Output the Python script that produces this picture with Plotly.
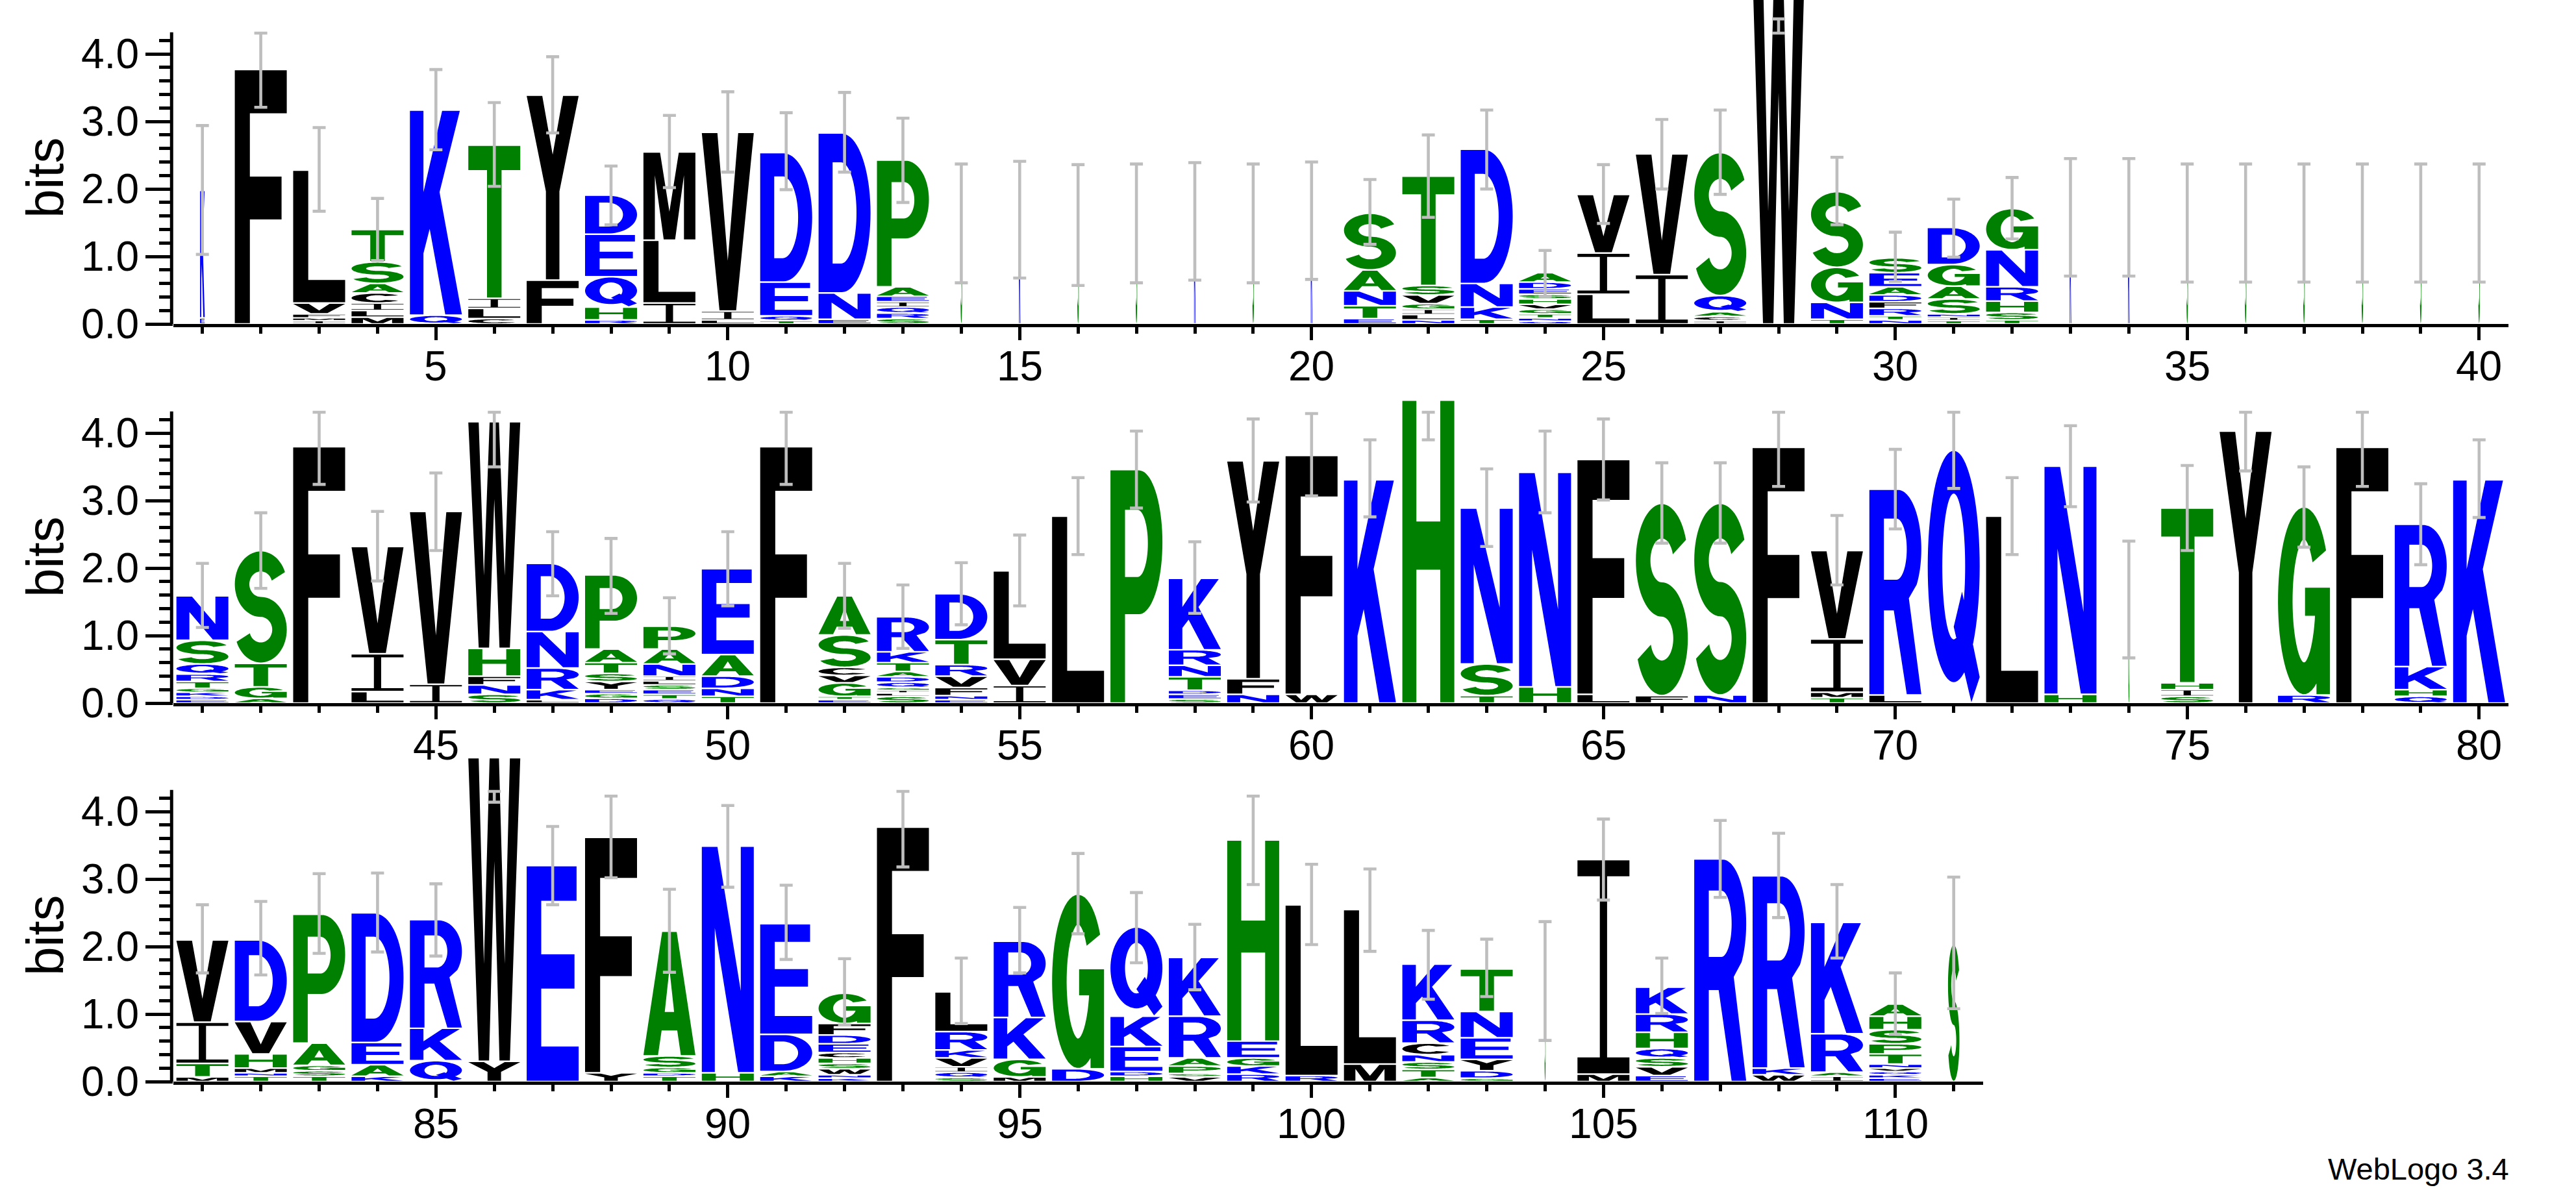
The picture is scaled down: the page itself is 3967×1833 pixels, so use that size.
import math
import plotly.graph_objects as go

# ---------------------------------------------------------------- data
# letters of each stack, listed bottom -> top (positions 1..111)
stack_letters = [
    "EK", "F", "IMFVL", "MLICAST", "QK", "CLIT", "FY", "RHQED", "ILM", "LIV",
    "TQED", "END", "SRQIEAP", "S", "K", "S", "S", "K", "S", "K",
    "ETNAS", "NLIGVST", "TKND", "QNTGVHSEDA", "LIV", "IV", "ICAQS", "W", "TNGS", "NTRFDAES",
    "TINSAGD", "TSHRNG", "K", "K", "S", "S", "S", "S", "S", "S",
    "EDKGTRQSN", "AGTS", "F", "LIV", "IV", "SNFHW", "LKRND", "DGEYSTAP", "QTESLINAP", "TNDAE",
    "F", "ETGVCSA", "SLIGQDATKR", "ENFVRTD", "IVL", "L", "P", "SEDTNRK", "NFY", "WF",
    "K", "H", "TSN", "HN", "LF", "FS", "NS", "F", "TMIV", "LR",
    "Q", "L", "HN", "G", "SIHT", "Y", "RG", "F", "QHKR", "K",
    "MTIV", "TNMHVD", "TSGAP", "KAED", "QKR", "YW", "E", "YF", "TDGSA", "HN",
    "KADE", "KNWSHCEDFG", "F", "SQIVKRL", "MGKR", "DG", "HDEKQ", "VSPARK", "RKGEH", "RL",
    "ML", "ATSNCRK", "GDYENT", "S", "MI", "EVSQHRK", "R", "WKR", "IARK", "EKQVNTPSHA", "S",
]

# letter heights in bits, same order as the letters
stack_heights = [
    [0.09, 1.89], [3.77], [0.05, 0.04, 0.06, 0.16, 1.97], [0.10, 0.10, 0.11, 0.15, 0.14, 0.32, 0.48],
    [0.13, 3.04], [0.08, 0.15, 0.15, 2.27], [0.65, 2.74], [0.06, 0.19, 0.45, 0.63, 0.58],
    [0.31, 0.93, 1.31], [0.06, 0.13, 2.65],
    [0.05, 0.07, 0.50, 1.92], [0.07, 0.39, 2.37], [0.08, 0.08, 0.09, 0.08, 0.08, 0.14, 1.88],
    [1.49], [1.54], [1.46], [1.49], [1.51], [1.49], [1.52],
    [0.08, 0.19, 0.22, 0.31, 0.84], [0.06, 0.08, 0.08, 0.08, 0.13, 0.14, 1.62], [0.07, 0.18, 0.35, 1.99],
    [0.04, 0.05, 0.06, 0.07, 0.07, 0.08, 0.07, 0.08, 0.10, 0.14], [0.44, 0.61, 0.87], [0.73, 1.79],
    [0.05, 0.06, 0.07, 0.24, 2.12], [5.20], [0.07, 0.25, 0.52, 1.12],
    [0.06, 0.06, 0.11, 0.10, 0.10, 0.12, 0.21, 0.22],
    [0.05, 0.05, 0.05, 0.22, 0.19, 0.32, 0.55], [0.06, 0.11, 0.17, 0.21, 0.55, 0.61], [1.57], [1.57],
    [1.49], [1.49], [1.49], [1.49], [1.49], [1.49],
    [0.05, 0.05, 0.06, 0.06, 0.10, 0.11, 0.15, 0.35, 0.66], [0.07, 0.17, 0.35, 1.67], [3.80],
    [0.17, 0.56, 1.59], [0.28, 2.56], [0.13, 0.14, 0.13, 0.41, 3.36], [0.05, 0.15, 0.32, 0.54, 1.01],
    [0.07, 0.07, 0.06, 0.12, 0.12, 0.16, 0.20, 1.10], [0.06, 0.07, 0.07, 0.07, 0.06, 0.07, 0.18, 0.22, 0.34],
    [0.10, 0.12, 0.18, 0.32, 1.27],
    [3.80], [0.05, 0.05, 0.20, 0.11, 0.12, 0.48, 0.58], [0.10, 0.05, 0.04, 0.04, 0.08, 0.08, 0.08, 0.13, 0.16, 0.52],
    [0.05, 0.06, 0.12, 0.17, 0.17, 0.37, 0.68], [0.26, 0.39, 1.31], [2.77], [3.46],
    [0.06, 0.07, 0.06, 0.20, 0.17, 0.23, 1.06], [0.13, 0.23, 3.23], [0.13, 3.54],
    [3.31], [4.49], [0.11, 0.47, 2.31], [0.24, 3.18], [0.13, 3.48], [0.11, 2.85], [0.12, 2.84], [3.79],
    [0.08, 0.08, 0.79, 1.31], [0.12, 3.05],
    [3.75], [2.77], [0.13, 3.38], [1.55], [0.10, 0.10, 0.10, 2.59], [4.03], [0.12, 2.79], [3.79],
    [0.10, 0.10, 0.34, 2.11], [3.31],
    [0.07, 0.20, 0.61, 1.22], [0.08, 0.05, 0.07, 0.21, 0.48, 1.21], [0.08, 0.08, 0.08, 0.33, 1.91],
    [0.08, 0.17, 0.33, 1.92], [0.31, 0.48, 1.61], [0.30, 4.50], [3.20], [0.13, 3.49],
    [0.08, 0.05, 0.08, 0.17, 1.85], [0.13, 3.36],
    [0.08, 0.07, 0.55, 1.64], [0.05, 0.05, 0.09, 0.08, 0.08, 0.08, 0.13, 0.13, 0.17, 0.45], [3.77],
    [0.06, 0.08, 0.08, 0.13, 0.12, 0.27, 0.59], [0.07, 0.26, 0.62, 1.13], [0.19, 2.59],
    [0.08, 0.07, 0.37, 0.45, 1.32], [0.07, 0.05, 0.11, 0.12, 0.62, 0.87], [0.11, 0.12, 0.12, 0.25, 2.98],
    [0.09, 2.53],
    [0.26, 2.29], [0.06, 0.12, 0.11, 0.11, 0.17, 0.34, 0.83], [0.05, 0.11, 0.17, 0.32, 0.39, 0.63], [1.50],
    [0.11, 3.18], [0.09, 0.13, 0.13, 0.14, 0.24, 0.27, 0.40], [3.30], [0.10, 0.10, 2.85],
    [0.08, 0.06, 0.57, 1.65], [0.05, 0.05, 0.05, 0.05, 0.06, 0.15, 0.15, 0.21, 0.20, 0.18], [2.04],
]

# error bar bounds (bits)
err_lo = [
    1.03, 3.21, 1.67, 0.94, 2.58, 2.04, 2.83, 1.47, 2.02, 2.25,
    1.99, 2.25, 1.80, 0.61, 0.68, 0.57, 0.61, 0.65, 0.61, 0.66,
    1.18, 1.58, 2.00, 0.41, 1.49, 2.00, 1.92, 4.31, 1.47, 0.63,
    0.99, 1.26, 0.71, 0.71, 0.62, 0.62, 0.62, 0.62, 0.62, 0.62,
    1.12, 1.70, 3.24, 1.81, 2.26, 3.50, 1.59, 1.33, 0.73, 1.44,
    3.24, 1.11, 0.81, 1.16, 1.44, 2.20, 2.89, 1.33, 2.98, 3.07,
    2.76, 3.90, 2.32, 2.82, 3.01, 2.37, 2.37, 3.21, 1.75, 2.58,
    3.18, 2.20, 2.91, 0.67, 2.26, 3.44, 2.31, 3.21, 2.05, 2.75,
    1.61, 1.58, 1.90, 1.92, 1.86, 4.14, 2.62, 3.02, 1.62, 2.88,
    1.81, 0.84, 3.18, 0.86, 1.61, 2.19, 1.76, 1.36, 2.92, 2.03,
    1.93, 1.22, 1.26, 0.61, 2.69, 1.01, 2.73, 2.43, 1.83, 0.70, 1.08,
]
err_hi = [
    2.94, 4.31, 2.91, 1.86, 3.77, 3.28, 3.96, 2.34, 3.09, 3.44,
    3.13, 3.43, 3.05, 2.37, 2.41, 2.36, 2.37, 2.39, 2.37, 2.40,
    2.14, 2.80, 3.17, 1.09, 2.36, 3.03, 3.17, 4.52, 2.47, 1.36,
    1.85, 2.17, 2.45, 2.45, 2.37, 2.37, 2.37, 2.37, 2.37, 2.37,
    2.07, 2.82, 4.31, 2.84, 3.41, 4.31, 2.54, 2.44, 1.56, 2.54,
    4.31, 2.07, 1.75, 2.08, 2.49, 3.34, 4.03, 2.39, 4.21, 4.29,
    3.90, 4.31, 3.47, 4.03, 4.21, 3.56, 3.56, 4.31, 2.78, 3.76,
    4.31, 3.34, 4.11, 2.40, 3.52, 4.31, 3.50, 4.31, 3.25, 3.90,
    2.62, 2.67, 3.08, 3.09, 2.93, 4.30, 3.78, 4.23, 2.85, 4.09,
    2.91, 1.82, 4.30, 1.83, 2.58, 3.38, 2.80, 2.33, 4.23, 3.22,
    3.15, 2.24, 2.11, 2.37, 3.89, 1.83, 3.87, 3.68, 2.92, 1.61, 3.03,
]

# columns drawn narrower (fraction of sequences without gaps)
narrow_positions = [1, 14, 15, 16, 17, 18, 19, 20, 33, 34, 35, 36, 37, 38, 39, 40, 74, 104, 111]
narrow_widths = [0.09, 0.03, 0.03, 0.03, 0.03, 0.03, 0.03, 0.03, 0.03, 0.03, 0.03, 0.03, 0.03,
                 0.03, 0.03, 0.03, 0.02, 0.02, 0.22]

row_first = [1, 41, 81]
row_last = [40, 80, 111]
y_tick_values = [0, 1, 2, 3, 4]
y_tick_labels = ["0.0", "1.0", "2.0", "3.0", "4.0"]

# ------------------------------------------------------------ colours
COLOR_OF = {}
for ch in "RKDENQ":
    COLOR_OF[ch] = "#0000FF"
for ch in "SGHTAP":
    COLOR_OF[ch] = "#008000"
for ch in "YVMCLFIW":
    COLOR_OF[ch] = "#000000"
COLOR_LIST = ["#0000FF", "#008000", "#000000"]

# ------------------------------------------------------------ glyph outlines (unit box)
def ellipse_arc(cx, cy, rx, ry, a0, a1, n):
    pts = []
    for i in range(n + 1):
        a = math.radians(a0 + (a1 - a0) * i / n)
        pts.append((cx + rx * math.cos(a), cy + ry * math.sin(a)))
    return pts


def stroke(center, hx, hy):
    sp = [(x / hx, y / hy) for x, y in center]
    left, right = [], []
    n = len(sp)
    for i in range(n):
        if i == 0:
            dx, dy = sp[1][0] - sp[0][0], sp[1][1] - sp[0][1]
        elif i == n - 1:
            dx, dy = sp[-1][0] - sp[-2][0], sp[-1][1] - sp[-2][1]
        else:
            dx, dy = sp[i + 1][0] - sp[i - 1][0], sp[i + 1][1] - sp[i - 1][1]
        L = math.hypot(dx, dy) or 1.0
        nx, ny = -dy / L, dx / L
        left.append(((sp[i][0] + nx) * hx, (sp[i][1] + ny) * hy))
        right.append(((sp[i][0] - nx) * hx, (sp[i][1] - ny) * hy))
    return left + right[::-1]


def signed_area(poly):
    s = 0.0
    for i in range(len(poly)):
        x0, y0 = poly[i]
        x1, y1 = poly[(i + 1) % len(poly)]
        s += x0 * y1 - x1 * y0
    return s / 2


def ccw(poly):
    return poly if signed_area(poly) > 0 else poly[::-1]


def with_hole(outer, hole):
    o = ccw(outer)
    h = ccw(hole)[::-1]
    return o + [o[0]] + h + [h[0]] + [o[0]]


def rect(x0, y0, x1, y1):
    return [(x0, y0), (x1, y0), (x1, y1), (x0, y1)]


GLYPHS = {
    "A": [with_hole([(0, 0), (0.28, 0), (0.35, 0.2), (0.65, 0.2), (0.72, 0), (1, 0), (0.64, 1), (0.36, 1)],
                    [(0.41, 0.35), (0.59, 0.35), (0.5, 0.7)])],
    "C": [stroke(ellipse_arc(0.5, 0.5, 0.36, 0.415, 40, 320, 60), 0.14, 0.085)],
    "D": [with_hole([(0, 0), (0.45, 0)] + ellipse_arc(0.45, 0.5, 0.55, 0.5, -90, 90, 40)[1:-1] + [(0.45, 1), (0, 1)],
                    [(0.27, 0.18), (0.43, 0.18)] + ellipse_arc(0.43, 0.5, 0.3, 0.32, -90, 90, 40)[1:-1]
                    + [(0.43, 0.82), (0.27, 0.82)])],
    "E": [[(0, 0), (1, 0), (1, 0.16), (0.28, 0.16), (0.28, 0.43), (0.92, 0.43), (0.92, 0.59), (0.28, 0.59),
           (0.28, 0.84), (0.96, 0.84), (0.96, 1), (0, 1)]],
    "F": [[(0, 0), (0.29, 0), (0.29, 0.41), (0.9, 0.41), (0.9, 0.58), (0.29, 0.58), (0.29, 0.83), (1, 0.83),
           (1, 1), (0, 1)]],
    "G": [stroke(ellipse_arc(0.5, 0.5, 0.36, 0.415, 35, 360, 60), 0.14, 0.085),
          rect(0.52, 0.42, 1.0, 0.57), rect(0.74, 0.0, 1.0, 0.57)],
    "H": [[(0, 0), (0.27, 0), (0.27, 0.44), (0.73, 0.44), (0.73, 0), (1, 0), (1, 1), (0.73, 1), (0.73, 0.6),
           (0.27, 0.6), (0.27, 1), (0, 1)]],
    "I": [rect(0, 0, 1, 0.075), rect(0.43, 0, 0.57, 1), rect(0, 0.925, 1, 1)],
    "K": [[(0, 0), (0.26, 0), (0.26, 0.3), (0.38, 0.42), (0.68, 0), (1, 0), (0.57, 0.6), (0.96, 1), (0.62, 1),
           (0.26, 0.6), (0.26, 1), (0, 1)]],
    "L": [[(0, 0), (1, 0), (1, 0.17), (0.29, 0.17), (0.29, 1), (0, 1)]],
    "M": [[(0, 0), (0.22, 0), (0.22, 0.74), (0.39, 0), (0.61, 0), (0.78, 0.74), (0.78, 0), (1, 0), (1, 1),
           (0.68, 1), (0.5, 0.32), (0.32, 1), (0, 1)]],
    "N": [[(0, 0), (0.25, 0), (0.25, 0.64), (0.7, 0), (1, 0), (1, 1), (0.75, 1), (0.75, 0.36), (0.3, 1), (0, 1)]],
    "P": [with_hole([(0, 0), (0.28, 0), (0.28, 0.38), (0.55, 0.38)] + ellipse_arc(0.55, 0.69, 0.45, 0.31, -90, 90, 40)[1:-1]
                    + [(0.55, 1), (0, 1)],
                    [(0.28, 0.54), (0.52, 0.54)] + ellipse_arc(0.52, 0.685, 0.2, 0.145, -90, 90, 30)[1:-1]
                    + [(0.52, 0.83), (0.28, 0.83)])],
    "Q": [with_hole(ellipse_arc(0.5, 0.54, 0.5, 0.46, 0, 360, 80)[:-1],
                    ellipse_arc(0.5, 0.54, 0.22, 0.29, 0, 360, 80)[:-1]),
          [(0.5, 0.3), (0.66, 0.44), (1.0, 0.1), (0.84, 0.0)]],
    "R": [with_hole([(0, 0), (0.28, 0), (0.28, 0.41), (0.47, 0.41), (0.72, 0), (1, 0), (0.76, 0.47)]
                    + ellipse_arc(0.55, 0.71, 0.45, 0.29, -40, 90, 40)[1:-1] + [(0.55, 1), (0, 1)],
                    [(0.28, 0.56), (0.52, 0.56)] + ellipse_arc(0.52, 0.71, 0.2, 0.15, -90, 90, 30)[1:-1]
                    + [(0.52, 0.86), (0.28, 0.86)])],
    "S": [stroke(ellipse_arc(0.5, 0.705, 0.36, 0.205, 20, 270, 50)
                 + ellipse_arc(0.5, 0.295, 0.36, 0.205, 90, -160, 50)[1:], 0.14, 0.09)],
    "T": [[(0.36, 0), (0.64, 0), (0.64, 0.84), (1, 0.84), (1, 1), (0, 1), (0, 0.84), (0.36, 0.84)]],
    "V": [[(0.34, 0), (0.66, 0), (1, 1), (0.7, 1), (0.5, 0.28), (0.3, 1), (0, 1)]],
    "W": [[(0.2, 0), (0.4, 0), (0.5, 0.66), (0.6, 0), (0.8, 0), (1, 1), (0.8, 1), (0.7, 0.32), (0.59, 1),
           (0.41, 1), (0.3, 0.32), (0.2, 1), (0, 1)]],
    "Y": [[(0.37, 0), (0.63, 0), (0.63, 0.48), (1, 1), (0.7, 1), (0.5, 0.68), (0.3, 1), (0, 1), (0.37, 0.48)]],
}
for k in GLYPHS:
    GLYPHS[k] = [ccw(p) for p in GLYPHS[k]]

# ------------------------------------------------------------ layout geometry
W_PX, H_PX = 3967, 1833
UNIT_PX = 89.9
LEFT_PX = 266.75
ROW_BASE_PX = [499, 1083, 1666]
ROW_H_PX = 499
Y_MAX = 4.8
LETTER_W = 0.89
GAP = 0.012
FONT = "Liberation Sans, Arial, Helvetica, sans-serif"
XLABEL_OFFSET_PX = 65      # centre of x tick labels below the baseline
YLABEL_RIGHT_PX = 215      # right edge of y tick labels

width_of = {p: w for p, w in zip(narrow_positions, narrow_widths)}

fig = go.Figure()
layout = dict(width=W_PX, height=H_PX, margin=dict(l=0, r=0, t=0, b=0, pad=0, autoexpand=False),
              paper_bgcolor="white", plot_bgcolor="white", showlegend=False)
shapes, annotations = [], []
tick_font = dict(family=FONT, size=64, color="black")

for r in range(3):
    p0, p1 = row_first[r], row_last[r]
    n = p1 - p0 + 1
    xname = "x" if r == 0 else f"x{r + 1}"
    yname = "y" if r == 0 else f"y{r + 1}"
    xkey = "xaxis" if r == 0 else f"xaxis{r + 1}"
    ykey = "yaxis" if r == 0 else f"yaxis{r + 1}"

    # letters
    paths = {c: ([], []) for c in COLOR_LIST}
    for p in range(p0, p1 + 1):
        letters = stack_letters[p - 1]
        heights = stack_heights[p - 1]
        w = LETTER_W * width_of.get(p, 1.0)
        y = 0.0
        for ch, h in zip(letters, heights):
            g = min(GAP, h * 0.25)
            ya, yb = y + g, y + h - g
            xs, ys = paths[COLOR_OF[ch]]
            for poly in GLYPHS[ch]:
                for u, v in poly:
                    xs.append(p + (u - 0.5) * w)
                    ys.append(ya + v * (yb - ya))
                xs.append(None)
                ys.append(None)
            y += h
    for c in COLOR_LIST:
        xs, ys = paths[c]
        if xs:
            fig.add_trace(go.Scatter(x=xs, y=ys, mode="lines", fill="toself", fillcolor=c,
                                     line=dict(width=0, color=c, simplify=False),
                                     hoverinfo="skip", xaxis=xname, yaxis=yname))

    # error bars
    pos = list(range(p0, p1 + 1))
    lo = [err_lo[p - 1] for p in pos]
    span = [err_hi[p - 1] - err_lo[p - 1] for p in pos]
    fig.add_trace(go.Scatter(x=pos, y=lo, mode="markers",
                             marker=dict(size=1, color="rgba(0,0,0,0)"),
                             error_y=dict(type="data", symmetric=False, array=span,
                                          arrayminus=[0] * len(pos), color="#BEBEBE",
                                          thickness=4.6, width=10),
                             hoverinfo="skip", xaxis=xname, yaxis=yname))

    xd = [LEFT_PX / W_PX, (LEFT_PX + n * UNIT_PX) / W_PX]
    yd = [1 - ROW_BASE_PX[r] / H_PX, 1 - (ROW_BASE_PX[r] - ROW_H_PX) / H_PX]
    major = [v for v in range(p0, p1 + 1) if v % 5 == 0]
    minor = [v for v in range(p0, p1 + 1) if v % 5 != 0]
    layout[xkey] = dict(domain=xd, range=[p0 - 0.5, p1 + 0.5], anchor=yname, automargin=False,
                        showline=True, linewidth=5, linecolor="black",
                        ticks="outside", ticklen=20, tickwidth=5, tickcolor="black",
                        tickmode="array", tickvals=major, showticklabels=False,
                        showgrid=False, zeroline=False,
                        minor=dict(tickmode="array", tickvals=minor, ticks="outside",
                                   ticklen=10, tickwidth=5, tickcolor="black", showgrid=False))
    minor_y = [round(0.2 * k, 1) for k in range(1, 22) if k % 5 != 0]
    layout[ykey] = dict(domain=yd, range=[0, Y_MAX], anchor=xname, automargin=False,
                        showline=False, ticks="outside", ticklen=42, tickwidth=5, tickcolor="black",
                        tickmode="array", tickvals=y_tick_values, showticklabels=False,
                        showgrid=False, zeroline=False,
                        minor=dict(tickmode="array", tickvals=minor_y, ticks="outside",
                                   ticklen=21, tickwidth=5, tickcolor="black", showgrid=False))
    # tick labels
    for v in major:
        annotations.append(dict(text=str(v), xref=xname, yref="paper", x=v,
                                y=1 - (ROW_BASE_PX[r] + XLABEL_OFFSET_PX) / H_PX,
                                xanchor="center", yanchor="middle", showarrow=False,
                                font=tick_font, borderpad=0))
    for v, t in zip(y_tick_values, y_tick_labels):
        annotations.append(dict(text=t, xref="paper", yref=yname, x=YLABEL_RIGHT_PX / W_PX, y=v,
                                xanchor="right", yanchor="middle", showarrow=False,
                                font=tick_font, borderpad=0))
    # y axis line up to log2(20)
    shapes.append(dict(type="line", xref=f"{xname} domain", yref=yname,
                       x0=-2.5 / (n * UNIT_PX), x1=-2.5 / (n * UNIT_PX), y0=0, y1=math.log2(20),
                       line=dict(color="black", width=5)))
    annotations.append(dict(text="bits", xref="paper", yref="paper", x=69 / W_PX,
                            y=1 - (ROW_BASE_PX[r] - 225) / H_PX, textangle=-90,
                            showarrow=False, xanchor="center", yanchor="middle",
                            font=dict(family=FONT, size=80, color="black")))

annotations.append(dict(text="WebLogo 3.4", xref="paper", yref="paper", x=3866 / W_PX,
                        y=1 - 1829 / H_PX, xanchor="right", yanchor="bottom", showarrow=False,
                        font=dict(family=FONT, size=47, color="black")))

layout["shapes"] = shapes
layout["annotations"] = annotations
fig.update_layout(**layout)
fig.write_html("out.html", config={"displayModeBar": False},
               post_script="document.body.style.margin='0';")
